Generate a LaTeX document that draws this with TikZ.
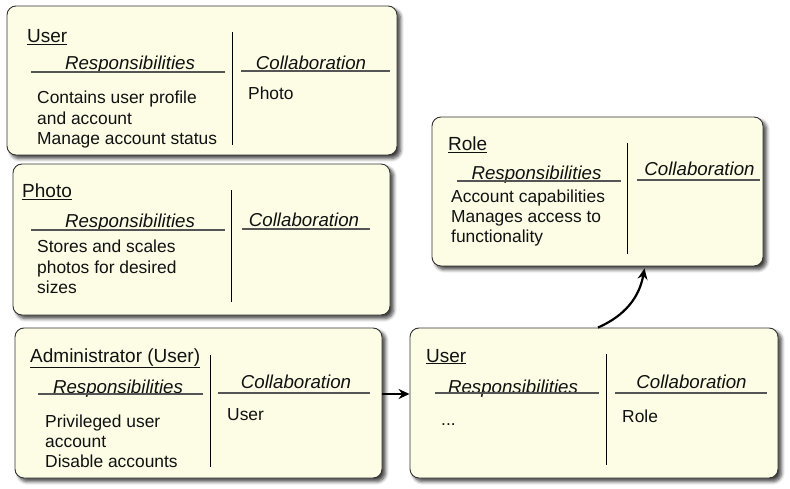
\documentclass[tikz,border=0pt]{standalone}
\usepackage{fontspec}
\setmainfont{Liberation Sans}
\usetikzlibrary{arrows.meta,shadows.blur}
\definecolor{cardfill}{HTML}{FDFDE6}
\definecolor{cardborder}{HTML}{333333}
\definecolor{rulecol}{HTML}{555555}
\definecolor{txtcol}{HTML}{111111}
\tikzset{
  card/.style={draw=cardborder, fill=cardfill, rounded corners=9pt, line width=0.9pt,
    blur shadow={shadow xshift=3.5pt, shadow yshift=-3.5pt, shadow blur steps=6, shadow blur radius=3.5pt, shadow opacity=75}},
  ttl/.style={anchor=base west, inner sep=0pt, text=txtcol, font=\fontsize{19}{22}\selectfont},
  hdr/.style={anchor=base, inner sep=0pt, text=txtcol, font=\fontsize{18.7}{22}\selectfont\itshape},
  txt/.style={anchor=base west, inner sep=0pt, text=txtcol, font=\fontsize{17.4}{20.5}\selectfont},
  hrule/.style={draw=rulecol, line width=1.1pt},
  vrule/.style={draw=black, line width=1pt},
  conn/.style={draw=black, line width=2.2pt, -{Stealth[length=11pt,width=10pt]}}
}
\begin{document}
\begin{tikzpicture}[x=1pt,y=-1pt]
\useasboundingbox (0,0) rectangle (790,489);
% cards
\node[card, minimum width=390pt, minimum height=149pt] (user1) at (202,80.5) {};
\node[card, minimum width=377pt, minimum height=151pt] (photo) at (201.5,239.5) {};
\node[card, minimum width=367pt, minimum height=150pt] (admin) at (198.5,403) {};
\node[card, minimum width=331pt, minimum height=149pt] (role) at (597.5,191.5) {};
\node[card, minimum width=368pt, minimum height=150pt] (user2) at (594,403) {};

% card User (top)
\node[ttl] (u1t) at (27,43) {\underline{User}};
\node[hdr] (u1r) at (130,70) {Responsibilities};
\node[hdr] (u1c) at (311,70) {Collaboration};
\draw[hrule] (31,72) -- (225,72);
\draw[hrule] (241,71) -- (390,71);
\draw[vrule] (232,32) -- (232,145);
\node[txt] (u1a) at (37,104) {Contains user profile};
\node[txt] (u1b) at (37,124.5) {and account};
\node[txt] (u1d) at (37,145) {Manage account status};
\node[txt] (u1e) at (248,100) {Photo};

% card Photo
\node[ttl] (pt) at (22,198) {\underline{Photo}};
\node[hdr] (pr) at (130,228) {Responsibilities};
\node[hdr] (pc) at (304,227) {Collaboration};
\draw[hrule] (31,230) -- (225,230);
\draw[hrule] (242,229) -- (370,229);
\draw[vrule] (231,190) -- (231,302);
\node[txt] (pa) at (37,253) {Stores and scales};
\node[txt] (pb) at (37,273) {photos for desired};
\node[txt] (pd) at (37,293) {sizes};

% card Administrator
\node[ttl] (at) at (30,362) {\underline{Administrator (User)}};
\node[hdr] (ar) at (118,393) {Responsibilities};
\node[hdr] (ac) at (296,388) {Collaboration};
\draw[hrule] (38,394) -- (203,394);
\draw[hrule] (218,393) -- (370,393);
\draw[vrule] (210,355) -- (210,467);
\node[txt] (aa) at (45,427) {Privileged user};
\node[txt] (ab) at (45,447) {account};
\node[txt] (ad) at (45,467) {Disable accounts};
\node[txt] (ae) at (227,420) {User};

% card Role
\node[ttl] (rt) at (448,151) {\underline{Role}};
\node[hdr] (rr) at (536.5,180) {Responsibilities};
\node[hdr] (rc) at (699.5,176) {Collaboration};
\draw[hrule] (457,181) -- (621,181);
\draw[hrule] (637,180) -- (760,180);
\draw[vrule] (627,143) -- (627,254);
\node[txt] (ra) at (451,203) {Account capabilities};
\node[txt] (rb) at (451,223) {Manages access to};
\node[txt] (rd) at (451,243) {functionality};

% card User (bottom right)
\node[ttl] (u2t) at (426,362) {\underline{User}};
\node[hdr] (u2r) at (513,393) {Responsibilities};
\node[hdr] (u2c) at (691.5,388) {Collaboration};
\draw[hrule] (435,393) -- (599,393);
\draw[hrule] (615,393) -- (767,393);
\draw[vrule] (606,354) -- (606,465);
\node[txt] (u2a) at (441,425) {...};
\node[txt] (u2e) at (622,422) {Role};

% connectors
\draw[conn] ([yshift=9pt]admin.east) -- ([yshift=9pt]user2.west);
\draw[conn] ([xshift=4pt]user2.north) to[bend right=28] ([xshift=47pt,yshift=-2pt]role.south);
\end{tikzpicture}
\end{document}
